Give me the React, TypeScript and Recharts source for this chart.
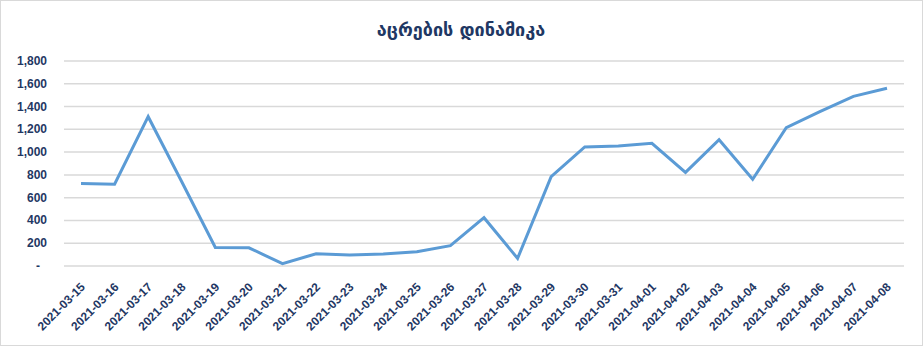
import React from 'react';
import { LineChart, Line, XAxis, YAxis, CartesianGrid } from 'recharts';

const dates = [
  '2021-03-15', '2021-03-16', '2021-03-17', '2021-03-18', '2021-03-19',
  '2021-03-20', '2021-03-21', '2021-03-22', '2021-03-23', '2021-03-24',
  '2021-03-25', '2021-03-26', '2021-03-27', '2021-03-28', '2021-03-29',
  '2021-03-30', '2021-03-31', '2021-04-01', '2021-04-02', '2021-04-03',
  '2021-04-04', '2021-04-05', '2021-04-06', '2021-04-07', '2021-04-08',
];

const vaccinations = [
  725, 718, 1311, 740, 162, 160, 20, 108, 96, 105,
  126, 179, 424, 67, 784, 1045, 1054, 1077, 822, 1109,
  761, 1214, 1355, 1490, 1560,
];

const yTicks = [0, 200, 400, 600, 800, 1000, 1200, 1400, 1600, 1800];

const data = dates.map((d, i) => ({ date: d, value: vaccinations[i] }));

const textColor = '#1F3864';

function YTick(props: any) {
  const { x, y, payload } = props;
  const v = payload.value;
  const label = v === 0 ? '-' : v.toLocaleString('en-US');
  return (
    <text
      x={v === 0 ? x - 7 : x}
      y={y}
      dy={4}
      textAnchor="end"
      fill={textColor}
      style={{ fontFamily: 'Liberation Sans', fontSize: 12, fontWeight: 'bold' }}
    >
      {label}
    </text>
  );
}

function XTick(props: any) {
  const { x, y, payload } = props;
  return (
    <g transform={`translate(${x + 2},${y + 11}) rotate(-45)`}>
      <text
        x={0}
        y={0}
        dy={4}
        textAnchor="end"
        fill={textColor}
        style={{ fontFamily: 'Liberation Sans', fontSize: 12, fontWeight: 'bold' }}
      >
        {payload.value}
      </text>
    </g>
  );
}

export default function App() {
  return (
    <div
      style={{
        position: 'absolute',
        left: 0,
        top: 0,
        width: 923,
        height: 346,
        boxSizing: 'border-box',
        border: '1px solid #d9d9d9',
        background: '#fff',
      }}
    >
      <LineChart
        width={921}
        height={344}
        data={data}
        margin={{ top: 60, right: 18, bottom: 0, left: 0 }}
      >
        <text
          x={460}
          y={28}
          textAnchor="middle"
          dominantBaseline="central"
          fill={textColor}
          style={{ fontFamily: 'DejaVu Sans', fontSize: 18, fontWeight: 'bold' }}
        >
          აცრების დინამიკა
        </text>
        <CartesianGrid vertical={false} stroke="#d9d9d9" strokeWidth={1.5} />
        <XAxis
          dataKey="date"
          interval={0}
          height={79}
          padding={{ left: 17, right: 17 }}
          tickLine={false}
          axisLine={false}
          tick={<XTick />}
        />
        <YAxis
          width={63}
          domain={[0, 1800]}
          ticks={yTicks}
          interval={0}
          tickLine={false}
          axisLine={false}
          tickMargin={11}
          tick={<YTick />}
        />
        <Line
          type="linear"
          dataKey="value"
          stroke="#5B9BD5"
          strokeWidth={3}
          dot={false}
          isAnimationActive={false}
        />
      </LineChart>
    </div>
  );
}
